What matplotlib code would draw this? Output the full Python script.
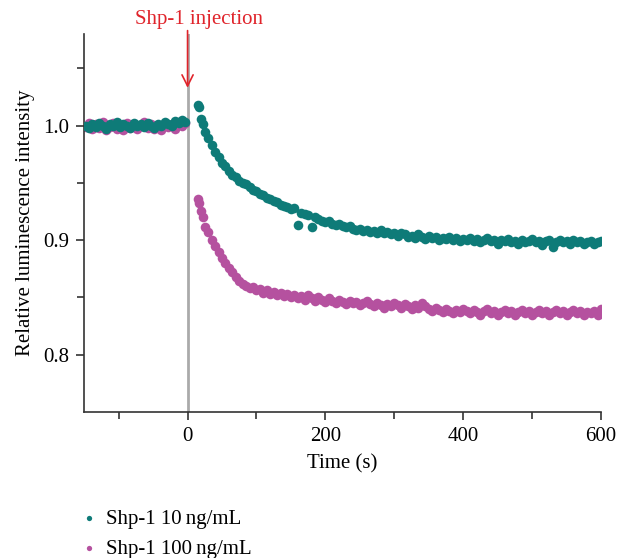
import matplotlib
matplotlib.use("Agg")
import matplotlib.pyplot as plt

plt.rcParams["font.family"] = ["Liberation Serif", "DejaVu Serif"]

# sampling times (s)
t_pre = [-148, -143, -138, -133, -128, -123, -118, -113, -108, -103,
         -98, -93, -88, -83, -78, -73, -68, -63, -58, -53,
         -48, -43, -38, -33, -28, -23, -18, -13, -8, -3]
t_post = [15, 17, 20, 23, 26, 30,
          35, 40, 45, 50, 55, 60, 65, 70, 75, 80,
          85, 90, 95, 100, 105, 110, 115, 120, 125, 130,
          135, 140, 145, 150, 155, 160, 165, 170, 175, 180,
          185, 190, 195, 200, 205, 210, 215, 220, 225, 230,
          235, 240, 245, 250, 255, 260, 265, 270, 275, 280,
          285, 290, 295, 300, 305, 310, 315, 320, 325, 330,
          335, 340, 345, 350, 355, 360, 365, 370, 375, 380,
          385, 390, 395, 400, 405, 410, 415, 420, 425, 430,
          435, 440, 445, 450, 455, 460, 465, 470, 475, 480,
          485, 490, 495, 500, 505, 510, 515, 520, 525, 530,
          535, 540, 545, 550, 555, 560, 565, 570, 575, 580,
          585, 590, 595, 600]

# Shp-1 10 ng/mL
low_pre = [1.000, 0.998, 1.001, 0.999, 1.002, 1.000, 0.997, 1.001, 1.000, 1.003,
           0.999, 1.001, 1.000, 0.998, 1.002, 1.000, 1.001, 0.999, 1.002, 1.000,
           0.998, 1.001, 1.000, 1.003, 1.001, 1.000, 1.004, 1.002, 1.005, 1.003]
low_post = [1.018, 1.016, 1.006, 1.001, 0.994, 0.989,
            0.983, 0.977, 0.973, 0.967, 0.965, 0.960, 0.957, 0.955, 0.952, 0.950,
            0.949, 0.946, 0.944, 0.943, 0.940, 0.939, 0.937, 0.936, 0.934, 0.933,
            0.931, 0.930, 0.929, 0.927, 0.928, 0.913, 0.924, 0.923, 0.922, 0.911,
            0.920, 0.918, 0.917, 0.916, 0.917, 0.914, 0.913, 0.914, 0.912, 0.911,
            0.912, 0.910, 0.909, 0.910, 0.908, 0.909, 0.907, 0.908, 0.906, 0.909,
            0.906, 0.907, 0.905, 0.906, 0.904, 0.906, 0.905, 0.903, 0.904, 0.902,
            0.905, 0.903, 0.901, 0.904, 0.902, 0.903, 0.900, 0.902, 0.901, 0.903,
            0.900, 0.902, 0.899, 0.901, 0.900, 0.902, 0.899, 0.901, 0.898, 0.900,
            0.902, 0.899, 0.900, 0.897, 0.900, 0.899, 0.901, 0.898, 0.899, 0.897,
            0.900, 0.898, 0.899, 0.901, 0.898, 0.899, 0.896, 0.899, 0.900, 0.894,
            0.898, 0.900, 0.898, 0.899, 0.897, 0.900, 0.898, 0.899, 0.897, 0.898,
            0.899, 0.897, 0.898, 0.899]

# Shp-1 100 ng/mL
high_pre = [0.999, 1.002, 0.997, 1.001, 0.998, 1.003, 0.996, 0.999, 1.002, 0.997,
            1.000, 0.996, 1.002, 0.998, 1.001, 0.997, 1.000, 1.003, 0.998, 1.001,
            0.997, 1.000, 0.996, 1.002, 0.999, 1.001, 0.997, 1.003, 1.000, 1.002]
high_post = [0.936, 0.932, 0.925, 0.920, 0.911, 0.907,
             0.900, 0.895, 0.890, 0.884, 0.880, 0.876, 0.872, 0.868, 0.864, 0.862,
             0.860, 0.858, 0.859, 0.856, 0.857, 0.854, 0.856, 0.853, 0.855, 0.852,
             0.854, 0.851, 0.853, 0.850, 0.852, 0.849, 0.851, 0.848, 0.852, 0.849,
             0.847, 0.850, 0.848, 0.846, 0.849, 0.847, 0.845, 0.848, 0.846, 0.844,
             0.847, 0.845, 0.846, 0.843, 0.845, 0.847, 0.844, 0.842, 0.845, 0.843,
             0.841, 0.844, 0.842, 0.845, 0.843, 0.841, 0.844, 0.842, 0.840, 0.843,
             0.841, 0.845, 0.842, 0.840, 0.838, 0.841, 0.839, 0.837, 0.840, 0.838,
             0.836, 0.839, 0.837, 0.840, 0.838, 0.836, 0.839, 0.837, 0.835, 0.838,
             0.840, 0.836, 0.838, 0.835, 0.837, 0.839, 0.836, 0.838, 0.835, 0.837,
             0.839, 0.836, 0.838, 0.835, 0.837, 0.839, 0.836, 0.838, 0.835, 0.837,
             0.839, 0.836, 0.838, 0.835, 0.837, 0.839, 0.836, 0.838, 0.835, 0.837,
             0.836, 0.838, 0.835, 0.840]

labels = ["Shp-1 10\u2009ng/mL", "Shp-1 100\u2009ng/mL"]
teal = "#0e7b78"
magenta = "#b5519f"
red = "#e0242b"
fs = 15

fig = plt.figure(figsize=(6.19, 5.58), dpi=100)
ax = fig.add_axes([0.136, 0.262, 0.835, 0.677])

ax.axvline(0, color="#aaaaaa", lw=2, zorder=1)

# magenta underneath, teal on top
ax.scatter(t_pre + t_post, high_pre + high_post, s=48, color=magenta,
           linewidths=0, zorder=2, label=labels[1])
ax.scatter(t_pre + t_post, low_pre + low_post, s=48, color=teal,
           linewidths=0, zorder=3, label=labels[0])

ax.set_xlim(-150, 600)
ax.set_ylim(0.75, 1.08)
ax.set_xticks([0, 200, 400, 600])
ax.set_xticks([-100, 100, 300, 500], minor=True)
ax.set_yticks([0.8, 0.9, 1.0])
ax.set_yticks([0.85, 0.95, 1.05], minor=True)
ax.spines["top"].set_visible(False)
ax.spines["right"].set_visible(False)
for s in ["left", "bottom"]:
    ax.spines[s].set_color("#333333")
    ax.spines[s].set_linewidth(1.2)
ax.tick_params(which="both", direction="out", color="#333333", width=1.2,
               labelsize=fs)
ax.tick_params(which="major", length=6, pad=5)
ax.tick_params(which="minor", length=5)

ax.set_xlabel("Time (s)", fontsize=fs, labelpad=6)
ax.set_ylabel("Relative luminescence intensity", fontsize=fs, labelpad=6)

# injection marker
ax.text(17, 1.093, "Shp-1 injection", ha="center", va="center",
        fontsize=fs, color=red, clip_on=False)
ax.annotate("", xy=(0, 1.033), xytext=(0, 1.083), annotation_clip=False,
            arrowprops=dict(arrowstyle="->", color=red, lw=1.2,
                            shrinkA=0, shrinkB=0, mutation_scale=20))

h, l = ax.get_legend_handles_labels()
fig.legend([h[1], h[0]], [l[1], l[0]], loc="upper left",
           bbox_to_anchor=(0.097, 0.121), frameon=False, fontsize=fs,
           markerscale=0.55, handletextpad=0.3, labelspacing=0.5,
           handlelength=1.0)

fig.savefig("out.png", dpi=100)
